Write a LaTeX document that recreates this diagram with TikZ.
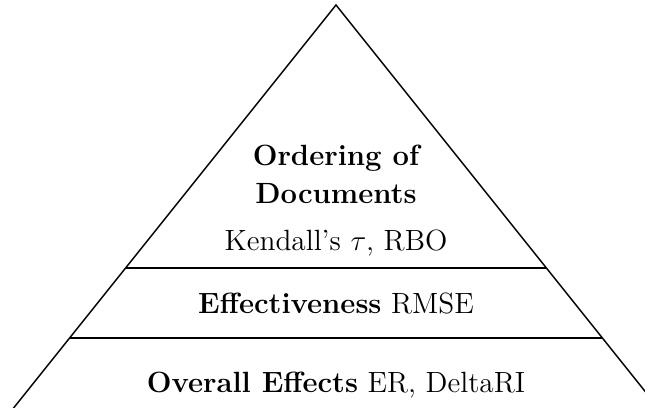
\documentclass[tikz,border=0pt]{standalone}
\usepackage{tikz}
\newcommand{\drawedge}{\draw[line width=0.6pt]}
\tikzset{level/.style={font=\large, anchor=base, inner sep=0pt}}

\begin{document}
\begin{tikzpicture}[x=0.41pt,y=0.41pt]
\useasboundingbox (0,0) rectangle (645,407);
\clip (0,0) rectangle (645,407);
% pyramid outline, base runs off the bottom
\coordinate (apex) at (336,402);
\coordinate (lbase) at (-4,-23);
\coordinate (rbase) at (676,-23);
\drawedge (lbase)--(apex)--(rbase);
% level separators
\coordinate (l1) at (125.6,139); \coordinate (r1) at (546.4,139);
\coordinate (l2) at (69.6,69);   \coordinate (r2) at (602.4,69);
\drawedge (l1)--(r1);
\drawedge (l2)--(r2);
% labels
\node[level] (order) at (336,242) {\bfseries Ordering of};
\node[level] (docs) at (336,204) {\bfseries Documents};
\node[level] (kendall) at (336,157) {Kendall's $\tau$, RBO};
\node[level] (effect) at (336,94) {\textbf{Effectiveness} RMSE};
\node[level] (overall) at (336,15) {\textbf{Overall Effects} ER, DeltaRI};
\end{tikzpicture}
\end{document}
